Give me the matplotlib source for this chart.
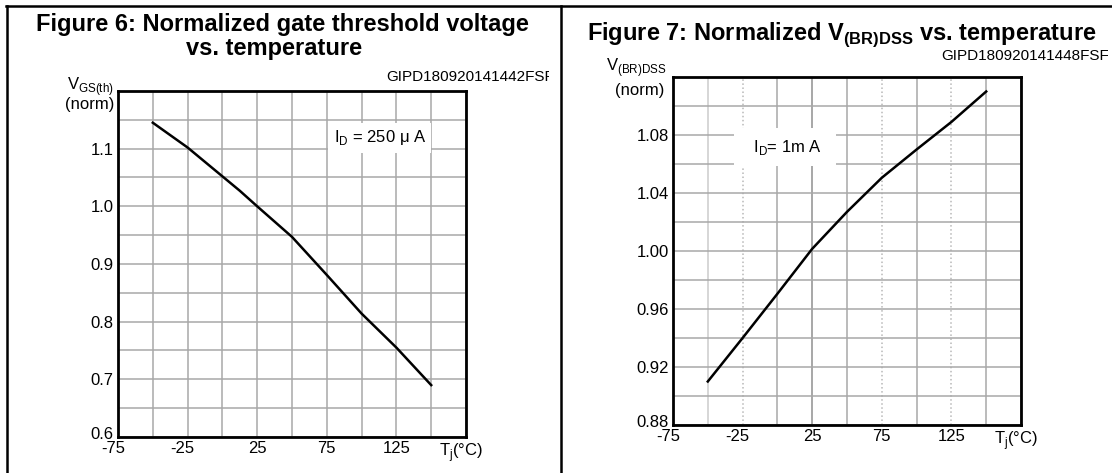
import matplotlib
matplotlib.use('Agg')
import matplotlib.pyplot as plt
import matplotlib.transforms as mtransforms
from matplotlib.lines import Line2D
import numpy as np

plt.rcParams['font.family'] = ['Liberation Sans', 'DejaVu Sans']

# Figure 6: normalized gate threshold voltage vs Tj
temp6 = [-50, -25, 0, 12.5, 25, 50, 75, 100, 125, 150]
vgs_norm = [1.145, 1.102, 1.052, 1.027, 1.0, 0.947, 0.881, 0.814, 0.755, 0.69]

# Figure 7: normalized V(BR)DSS vs Tj
temp7 = [-50, -25, 0, 25, 50, 75, 100, 125, 150]
vbr_norm = [0.91, 0.94, 0.9705, 1.0015, 1.027, 1.0505, 1.070, 1.089, 1.110]

x_ticks = list(range(-75, 176, 25))
x_labels = ['-75', '', '-25', '', '25', '', '75', '', '125', '', r'T$_\mathregular{j}$(°C)']
y6_ticks = np.round(np.arange(0.6, 1.2001, 0.05), 2)
y6_labels = ['0.6', '', '0.7', '', '0.8', '', '0.9', '', '1.0', '', '1.1', '', '']
y7_ticks = np.round(np.arange(0.88, 1.1201, 0.02), 2)
y7_labels = ['0.88', '', '0.92', '', '0.96', '', '1.00', '', '1.04', '', '1.08', '', '']

W, H = 1112, 473
fig = plt.figure(figsize=(W / 100, H / 100), dpi=100)


def px(x, y):
    # figure pixel (from top-left) -> figure fraction
    return x / W, 1 - y / H


def shift(lab, dx, dy):
    lab.set_transform(lab.get_transform() + mtransforms.ScaledTranslation(dx / 72, dy / 72, fig.dpi_scale_trans))


def setup(ax, yticks, ylabels):
    ax.set_xlim(-75, 175)
    ax.set_ylim(yticks[0], yticks[-1])
    ax.set_xticks(x_ticks, x_labels)
    ax.set_yticks(yticks, ylabels)
    ax.tick_params(length=0, labelsize=12, pad=3)
    ax.set_axisbelow(True)
    ax.grid(True, color='#a8a8a8', lw=1.1)
    for s in ax.spines.values():
        s.set_linewidth(2)
        s.set_color('black')
    xl = ax.get_xticklabels()
    for lab in xl:
        if lab.get_text().startswith('-'):
            shift(lab, -3.6, 0)
    shift(xl[-1], -3.6, 0)
    shift(ax.get_yticklabels()[0], 0, 3)


# left panel
ax6 = fig.add_axes([118 / W, (H - 437) / H, 348 / W, 346 / H])
setup(ax6, y6_ticks, y6_labels)
ax6.plot(temp6, vgs_norm, color='black', lw=1.8)
ax6.text(113, 1.119, r'I$_\mathregular{D}$ = 250 μ A', ha='center', va='center', fontsize=12,
         bbox=dict(fc='white', ec='none', pad=4))

# right panel
ax7 = fig.add_axes([673 / W, (H - 425) / H, 348 / W, 348 / H])
setup(ax7, y7_ticks, y7_labels)
ax7.plot(temp7, vbr_norm, color='black', lw=1.8)
ax7.text(5.5, 1.0717, r'  I$_\mathregular{D}$= 1m A  ', ha='center', va='center', fontsize=12,
         bbox=dict(fc='white', ec='none', pad=7))
styles = {-50: ('#cccccc', '-'), -25: ('#b8b8b8', ':'), 25: ('#909090', '-'),
          75: ('#b8b8b8', ':'), 125: ('#b8b8b8', ':')}
for t, gl in zip(x_ticks, ax7.get_xgridlines()):
    if t in styles:
        gl.set_color(styles[t][0])
        gl.set_linestyle(styles[t][1])

# titles
fig.text(*px(282, 24), 'Figure 6: Normalized gate threshold voltage', ha='center', va='center',
         fontsize=17, weight='bold')
fig.text(*px(274, 48), 'vs. temperature', ha='center', va='center', fontsize=17, weight='bold')
fig.text(*px(842, 35), r'Figure 7: Normalized V$_\mathregular{(BR)DSS}$ vs. temperature',
         ha='center', va='center', fontsize=17, weight='bold')

# y labels
fig.text(*px(114, 87), r'V$_\mathregular{GS(th)}$', ha='right', va='center', fontsize=12)
fig.text(*px(114, 104), '(norm)', ha='right', va='center', fontsize=12)
fig.text(*px(667, 68), r'V$_\mathregular{(BR)DSS}$', ha='right', va='center', fontsize=12)
fig.text(*px(664, 90), '(norm)', ha='right', va='center', fontsize=12)

# figure codes, clipped at the panel edge
for code, x0, y0, xclip in [('GIPD180920141442FSF', 386, 77, 549),
                            ('GIPD180920141448FSF', 941, 56, 1108)]:
    t = fig.text(*px(x0, y0), code, ha='left', va='center', fontsize=11)
    t.set_clip_box(mtransforms.TransformedBbox(mtransforms.Bbox([[0, 0], [xclip / W, 1]]), fig.transFigure))
    t.set_clip_on(True)

# panel frame lines
for xs, ys in [([6 / W, 1], [1 - 6 / H, 1 - 6 / H]),
               ([7 / W, 7 / W], [0, 1 - 6 / H]),
               ([561 / W, 561 / W], [0, 1 - 6 / H])]:
    fig.add_artist(Line2D(xs, ys, transform=fig.transFigure, color='black', lw=1.8))

fig.savefig('out.png', dpi=100)
